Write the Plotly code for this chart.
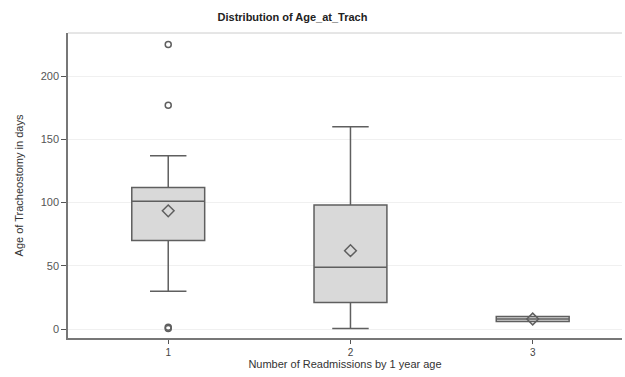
import plotly.graph_objects as go

categories = [1, 2, 3]
q1 = [70, 21, 6]
median = [101, 49, 8]
q3 = [112, 98, 10]
lower_whisker = [30, 0.5, 6]
upper_whisker = [137, 160, 10]
means = [93.5, 62, 8]
outlier_x = [1, 1, 1, 1]
outlier_y = [225, 177, 1.5, 0.5]
y_ticks = [0, 50, 100, 150, 200]

line_col = "#5f5f5f"
fill_col = "#d9d9d9"

fig = go.Figure()
fig.add_trace(go.Box(
    x=categories, q1=q1, median=median, q3=q3,
    lowerfence=lower_whisker, upperfence=upper_whisker,
    fillcolor=fill_col, line=dict(color=line_col, width=1.5),
    width=0.4, whiskerwidth=0.5, showlegend=False, hoverinfo="skip",
))
fig.add_trace(go.Scatter(
    x=categories, y=means, mode="markers",
    marker=dict(symbol="diamond-open", size=9, color=line_col, line=dict(width=1.5)),
    showlegend=False,
))
fig.add_trace(go.Scatter(
    x=outlier_x, y=outlier_y, mode="markers",
    marker=dict(symbol="circle-open", size=6, color=line_col, line=dict(width=1.5)),
    showlegend=False,
))

fig.update_layout(
    width=625, height=377,
    margin=dict(l=68, r=3, t=33, b=39),
    paper_bgcolor="white", plot_bgcolor="white",
    font=dict(family="Liberation Sans, Arial, sans-serif", color="#333333", size=11),
    title=dict(text="<b>Distribution of Age_at_Trach</b>", x=0.468, xanchor="center",
               y=0.955, yanchor="middle", font=dict(size=11, color="#222222")),
    xaxis=dict(range=[0.45, 3.49], tickvals=categories, ticktext=[str(c) for c in categories],
               showline=True, linecolor="#777777", linewidth=1.5, ticks="outside", ticklen=4,
               tickcolor="#555555", showgrid=False, zeroline=False, automargin=False,
               title=dict(text="Number of Readmissions by 1 year age", standoff=3,
                          font=dict(size=11, color="#333333")),
               tickfont=dict(size=10, color="#444444")),
    yaxis=dict(range=[-7, 234], tickvals=y_ticks, showline=True, linecolor="#777777",
               linewidth=1.5, ticks="outside", ticklen=5, tickcolor="#555555",
               showgrid=True, gridcolor="#f0f0f0", zeroline=False, automargin=False,
               title=dict(text="Age of Tracheostomy in days",
                          font=dict(size=11, color="#333333")),
               tickfont=dict(size=11, color="#555555")),
)
fig.add_shape(type="line", xref="paper", yref="paper", x0=0, x1=1, y0=1, y1=1,
              line=dict(color="#cccccc", width=1))

fig.write_html("out.html",
               config={"displayModeBar": False, "responsive": False},
               post_script=("document.body.style.margin='0';"
                            "document.body.style.overflow='hidden';"
                            "document.documentElement.style.overflow='hidden';"))
